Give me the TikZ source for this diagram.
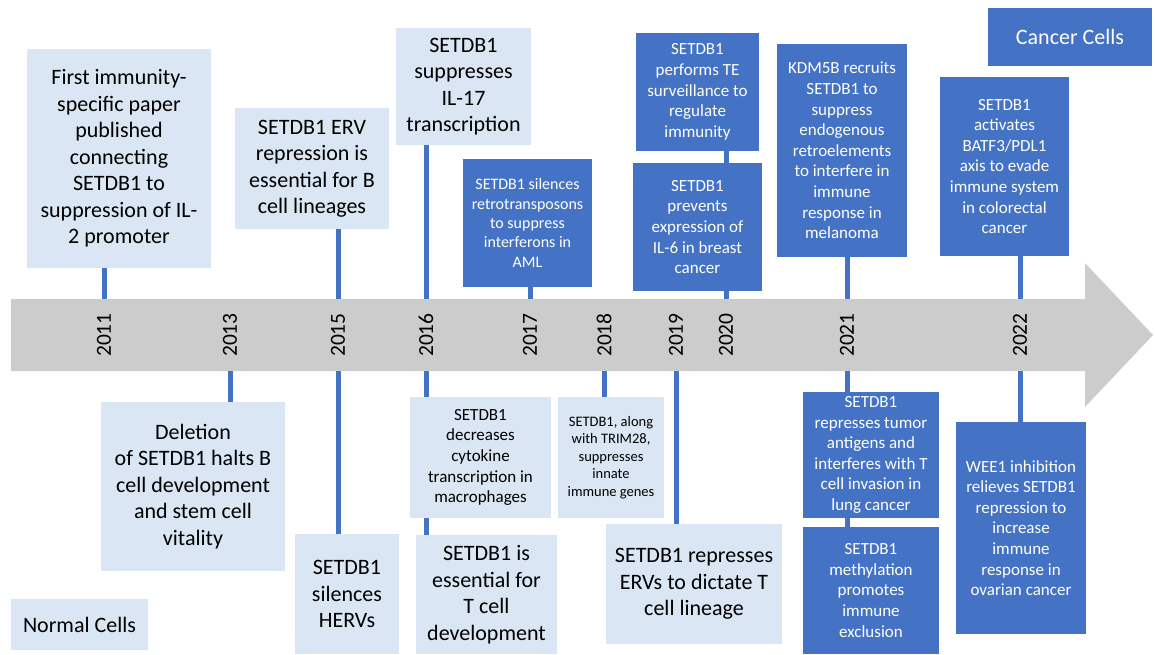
\documentclass[tikz,border=0pt]{standalone}
\usepackage{fontspec}
\setmainfont{Carlito}
\definecolor{lightblue}{HTML}{DAE6F4}
\definecolor{darkblue}{HTML}{4472C4}
\definecolor{bandgray}{HTML}{CCCCCC}
\tikzset{
  light/.style={fill=lightblue, text=black, align=center, inner sep=0pt},
  dark/.style={fill=darkblue, text=white, align=center, inner sep=0pt},
  big/.style={font=\fontsize{22}{26.5}\selectfont},
  mid/.style={font=\fontsize{17}{20.6}\selectfont},
  small/.style={font=\fontsize{14.5}{17.6}\selectfont},
  link/.style={draw=darkblue, line width=5pt},
  year/.style={rotate=90, font=\fontsize{21.5}{24}\selectfont},
}
\begin{document}
\begin{tikzpicture}[x=1pt, y=-1pt]
    \useasboundingbox (0,0) rectangle (1155,654);

    % time arrow
    \fill[bandgray] (11,299) -- (1085,299) -- (1085,263) -- (1153,335)
      -- (1085,407) -- (1085,371) -- (11,371) -- cycle;
    \coordinate (top) at (0,299);
    \coordinate (bot) at (0,371);

    % years
    \foreach \yr/\x in {2011/104, 2013/230, 2015/338, 2016/426, 2017/530,
                        2018/604, 2019/676, 2020/726, 2021/847, 2022/1020} {
        \node[year] (y\yr) at (\x,335) {\yr};
      }

    % above the arrow
    \node[light, big, minimum width=184, minimum height=219] (b1) at (119,158.5)
      {First immunity-\\specific paper\\published\\connecting\\SETDB1 to\\suppression of IL-\\2 promoter};
    \node[light, big, minimum width=154, minimum height=121] (b2) at (312,168.5)
      {SETDB1 ERV\\repression is\\essential for B\\cell lineages};
    \node[light, big, minimum width=135, minimum height=117] (b3) at (463.5,86.5)
      {SETDB1\\suppresses\\IL-17\\transcription};
    \node[dark, font=\fontsize{16}{19.3}\selectfont, minimum width=129, minimum height=128] (b4) at (527.5,223)
      {SETDB1 silences\\retrotransposons\\to suppress\\interferons in\\AML};
    \node[dark, mid, minimum width=123, minimum height=118] (b5) at (697.5,92)
      {SETDB1\\performs TE\\surveillance to\\regulate\\immunity};
    \node[dark, mid, minimum width=129, minimum height=128] (b6) at (697.5,227)
      {SETDB1\\prevents\\expression of\\IL-6 in breast\\cancer};
    \node[dark, mid, minimum width=130, minimum height=213] (b7) at (842,150.5)
      {KDM5B recruits\\SETDB1 to\\suppress\\endogenous\\retroelements\\to interfere in\\immune\\response in\\melanoma};
    \node[dark, mid, minimum width=129, minimum height=179] (b8) at (1004.5,166.5)
      {SETDB1\\activates\\BATF3/PDL1\\axis to evade\\immune system\\in colorectal\\cancer};
    \node[dark, big, minimum width=164, minimum height=58] (cancer) at (1070,37) {Cancer Cells};

    % below the arrow
    \node[light, big, minimum width=184, minimum height=169] (b10) at (193,486.5)
      {Deletion\\of SETDB1 halts B\\cell development\\and stem cell\\vitality};
    \node[light, big, minimum width=104, minimum height=120] (b11) at (347,594)
      {SETDB1\\silences\\HERVs};
    \node[light, big, minimum width=137, minimum height=51] (normal) at (79.5,624.5) {Normal Cells};
    \node[light, mid, minimum width=141, minimum height=121] (b13) at (480.5,457.5)
      {SETDB1\\decreases\\cytokine\\transcription in\\macrophages};
    \node[light, big, minimum width=141, minimum height=119] (b14) at (486.5,594.5)
      {SETDB1 is\\essential for\\T cell\\development};
    \node[light, small, minimum width=106, minimum height=121] (b15) at (611,457.5)
      {SETDB1, along\\with TRIM28,\\suppresses\\innate\\immune genes};
    \node[light, big, minimum width=176, minimum height=120] (b16) at (694,584)
      {SETDB1 represses\\ERVs to dictate T\\cell lineage};
    \node[dark, mid, minimum width=136, minimum height=126] (b17) at (871,455)
      {SETDB1\\represses tumor\\antigens and\\interferes with T\\cell invasion in\\lung cancer};
    \node[dark, mid, minimum width=136, minimum height=127] (b18) at (871,590.5)
      {SETDB1\\methylation\\promotes\\immune\\exclusion};
    \node[dark, mid, minimum width=130, minimum height=212] (b19) at (1021,528)
      {WEE1 inhibition\\relieves SETDB1\\repression to\\increase\\immune\\response in\\ovarian cancer};

    % connectors
    \draw[link] (y2011 |- b1.south) -- (y2011 |- top);
    \draw[link] (y2013 |- bot) -- (y2013 |- b10.north);
    \draw[link] (y2015 |- b2.south) -- (y2015 |- top);
    \draw[link] (y2015 |- bot) -- (y2015 |- b11.north);
    \draw[link] (y2016 |- b3.south) -- (y2016 |- top);
    \draw[link] (y2016 |- bot) -- (y2016 |- b13.north);
    \draw[link] (y2016 |- b13.south) -- (y2016 |- b14.north);
    \draw[link] (y2017 |- b4.south) -- (y2017 |- top);
    \draw[link] (y2018 |- bot) -- (y2018 |- b15.north);
    \draw[link] (y2019 |- bot) -- (y2019 |- b16.north);
    \draw[link] (y2020 |- b5.south) -- (y2020 |- b6.north);
    \draw[link] (y2020 |- b6.south) -- (y2020 |- top);
    \draw[link] (y2021 |- b7.south) -- (y2021 |- top);
    \draw[link] (y2021 |- bot) -- (y2021 |- b17.north);
    \draw[link] (y2021 |- b17.south) -- (y2021 |- b18.north);
    \draw[link] (y2022 |- b8.south) -- (y2022 |- top);
    \draw[link] (y2022 |- bot) -- (y2022 |- b19.north);
  \end{tikzpicture}
\end{document}
